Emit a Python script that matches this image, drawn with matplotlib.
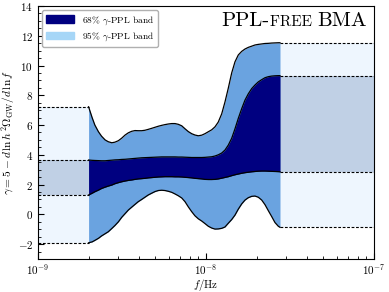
import numpy as np
import matplotlib
matplotlib.use("Agg")
import matplotlib.pyplot as plt
from matplotlib.patches import Patch
from matplotlib.ticker import AutoMinorLocator, NullFormatter

plt.rcParams['font.family'] = 'serif'
plt.rcParams['font.serif'] = ['cmr10']
plt.rcParams['mathtext.fontset'] = 'cm'
plt.rcParams['axes.formatter.use_mathtext'] = True
plt.rcParams['axes.unicode_minus'] = True

# frequencies (nHz) of the band
f_nHz = [2.0, 2.1, 2.18, 2.29, 2.39, 2.51, 2.62, 2.75, 2.87, 3.01,
         3.15, 3.30, 3.45, 3.61, 3.78, 3.95, 4.14, 4.33, 4.53, 4.75,
         4.97, 5.20, 5.45, 5.70, 5.96, 6.25, 6.54, 6.84, 7.17, 7.50,
         7.85, 8.22, 8.60, 9.00, 9.43, 9.86, 10.32, 10.81, 11.31, 11.83,
         12.40, 12.97, 13.57, 14.22, 14.88, 15.57, 16.31, 17.07, 17.86, 18.71,
         19.57, 20.48, 21.46, 22.45, 23.49, 24.61, 25.74, 26.94, 27.57]

upper95 = [7.23, 6.5, 6.0, 5.55, 5.25, 5.0, 4.88, 4.81, 4.85, 4.95,
           5.12, 5.33, 5.48, 5.58, 5.63, 5.62, 5.62, 5.65, 5.71, 5.78,
           5.85, 5.92, 5.98, 6.03, 6.07, 6.1, 6.1, 6.05, 5.95, 5.75,
           5.56, 5.42, 5.33, 5.28, 5.32, 5.42, 5.55, 5.68, 5.88, 6.2,
           6.75, 7.55, 8.47, 9.5, 10.25, 10.71, 10.95, 11.11, 11.22, 11.3,
           11.38, 11.42, 11.45, 11.48, 11.49, 11.51, 11.52, 11.53, 11.53]

upper68 = [3.65, 3.63, 3.62, 3.61, 3.60, 3.60, 3.62, 3.64, 3.66, 3.67,
           3.69, 3.70, 3.72, 3.74, 3.76, 3.78, 3.80, 3.81, 3.82, 3.83,
           3.84, 3.85, 3.86, 3.86, 3.86, 3.86, 3.86, 3.85, 3.85, 3.84,
           3.83, 3.82, 3.82, 3.82, 3.82, 3.83, 3.85, 3.87, 3.92, 4.00,
           4.12, 4.32, 4.65, 5.11, 5.75, 6.45, 7.10, 7.68, 8.10, 8.45,
           8.69, 8.90, 9.05, 9.18, 9.25, 9.29, 9.31, 9.32, 9.32]

lower68 = [1.30, 1.42, 1.52, 1.63, 1.74, 1.83, 1.90, 1.97, 2.06, 2.13,
           2.19, 2.24, 2.28, 2.31, 2.35, 2.38, 2.40, 2.42, 2.45, 2.47,
           2.49, 2.51, 2.52, 2.53, 2.53, 2.53, 2.52, 2.52, 2.51, 2.49,
           2.47, 2.45, 2.42, 2.40, 2.38, 2.35, 2.34, 2.34, 2.35, 2.38,
           2.43, 2.48, 2.53, 2.60, 2.66, 2.71, 2.76, 2.80, 2.83, 2.86,
           2.88, 2.90, 2.91, 2.91, 2.90, 2.89, 2.88, 2.87, 2.86]

lower95 = [-1.91, -1.85, -1.75, -1.61, -1.45, -1.30, -1.17, -0.95, -0.75, -0.50,
           -0.20, 0.05, 0.29, 0.48, 0.67, 0.85, 1.00, 1.15, 1.30, 1.42,
           1.53, 1.60, 1.62, 1.60, 1.55, 1.48, 1.37, 1.25, 1.10, 0.85,
           0.50, 0.18, -0.10, -0.30, -0.45, -0.62, -0.80, -0.92, -0.99, -0.98,
           -0.94, -0.85, -0.60, -0.35, -0.05, 0.35, 0.70, 0.96, 1.12, 1.21,
           1.23, 1.15, 0.96, 0.65, 0.25, -0.15, -0.55, -0.80, -0.87]

f_min, f_max = 1e-9, 1e-7
legend_labels = [r"68% $\gamma$-PPL band", r"95% $\gamma$-PPL band"]

c68 = '#000080'
c95 = '#6aa3e0'
c95_ext = '#eef6fe'
c68_ext = '#c0d0e5'
c95_leg = '#a6d6f7'

f = np.array(f_nHz) * 1e-9
u95 = np.array(upper95); u68 = np.array(upper68)
l68 = np.array(lower68); l95 = np.array(lower95)

fig = plt.figure(figsize=(3.89, 2.92), dpi=100)
ax = fig.add_axes([0.0977, 0.113, 0.8637, 0.8665])

# extensions outside the band
for (fa, fb, i) in [(f_min, f[0], 0), (f[-1], f_max, -1)]:
    ax.fill_between([fa, fb], [l95[i]] * 2, [u95[i]] * 2, color=c95_ext, lw=0)
    ax.fill_between([fa, fb], [l68[i]] * 2, [u68[i]] * 2, color=c68_ext, lw=0)
    for v in (l95[i], l68[i], u68[i], u95[i]):
        ax.plot([fa, fb], [v, v], ls='--', color='k', lw=0.8, dashes=(2.5, 1.5))

ax.fill_between(f, l95, u95, color=c95, lw=0)
ax.fill_between(f, l68, u68, color=c68, lw=0)
for curve in (l95, l68, u68, u95):
    ax.plot(f, curve, color='k', lw=0.9)

ax.set_xscale('log')
ax.set_xlim(f_min, f_max)
ax.xaxis.set_minor_formatter(NullFormatter())
ax.set_ylim(-3, 14)
ax.set_yticks(np.arange(-2, 15, 2))
ax.yaxis.set_minor_locator(AutoMinorLocator(4))
ax.tick_params(which='both', direction='in', labelsize=8, top=False, right=False)
ax.tick_params(which='major', length=4)
ax.tick_params(which='minor', length=2)
ax.tick_params(axis='x', pad=2)

ax.set_xlabel(r"$f/\mathrm{Hz}$", fontsize=7.8)
ax.set_ylabel(r"$\gamma = 5 - d\,\ln h^2\Omega_{\rm GW}/d\,\ln f$", fontsize=8.2)
ax.xaxis.set_label_coords(0.5, -0.071)
ax.yaxis.set_label_coords(-0.064, 0.5)

handles = [Patch(color=c68), Patch(color=c95_leg)]
leg = ax.legend(handles, legend_labels, loc='upper left', fontsize=6.8,
                frameon=True, fancybox=True, edgecolor='#b0b0b0', framealpha=1,
                handlelength=3.0, handleheight=0.9, borderaxespad=0.45,
                labelspacing=0.4)

# "PPL-free BMA" with small caps
fig.canvas.draw()
r = fig.canvas.get_renderer()
x_right = 366.5
y_base = 292 - 26
parts = [("BMA", 15), ("FREE ", 11), ("PPL-", 15)]
x = x_right
for txt, fs in parts:
    t = fig.text(x / 389, y_base / 292, txt, fontsize=fs, ha='right', va='baseline',
                 family='serif')
    bb = t.get_window_extent(r)
    x -= bb.width

fig.savefig('out.png', dpi=100)
